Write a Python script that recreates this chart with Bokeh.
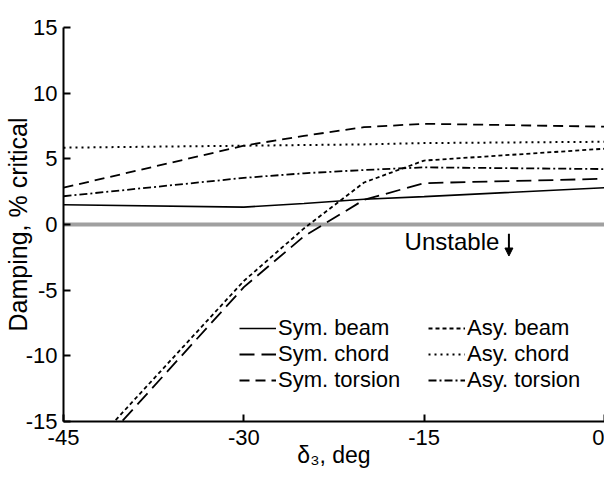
from bokeh.plotting import figure
from bokeh.models import (Range1d, Legend, LegendItem, Arrow, NormalHead, Label,
                          FixedTicker, PrintfTickFormatter)
from bokeh.embed import file_html
from bokeh.resources import INLINE

# data
delta3 = [-45, -30, -25, -20, -15, 0]
sym_beam = [1.5, 1.32, 1.6, 1.92, 2.12, 2.8]
sym_chord = [-19.9, -4.77, -0.9, 1.88, 3.15, 3.48]
sym_torsion = [2.8, 6.0, 6.75, 7.41, 7.67, 7.45]
asy_beam = [-19.2, -4.3, -0.3, 3.2, 4.87, 5.77]
asy_chord = [5.85, 6.0, 6.05, 6.1, 6.2, 6.3]
asy_torsion = [2.15, 3.55, 3.9, 4.15, 4.35, 4.22]
x_ticks = [-45, -30, -15, 0]
y_ticks = [-15, -10, -5, 0, 5, 10, 15]
zero_x = [-45, 0]
zero_y = [0, 0]

FONT = "Liberation Sans"

p = figure(width=604, height=473, output_backend="svg", toolbar_location=None,
           x_range=Range1d(-45, 0), y_range=Range1d(-15, 15),
           min_border_left=59, min_border_right=0, min_border_top=27, min_border_bottom=52)
p.outline_line_color = None
p.grid.visible = False

for ax in (p.xaxis, p.yaxis):
    ax.axis_line_width = 2
    ax.axis_line_color = "black"
    ax.major_tick_line_width = 2
    ax.major_tick_in = 7
    ax.major_tick_out = 0
    ax.minor_tick_line_color = None
    ax.major_label_text_font = FONT
    ax.major_label_text_font_size = "22px"
    ax.major_label_text_color = "black"
    ax.axis_label_text_font = FONT
    ax.axis_label_text_font_style = "normal"
    ax.axis_label_text_color = "black"
    ax.formatter = PrintfTickFormatter(format="%d")

p.xaxis.ticker = FixedTicker(ticks=x_ticks)
p.yaxis.ticker = FixedTicker(ticks=y_ticks)
p.xaxis.major_label_standoff = 8
p.yaxis.major_label_standoff = 6
p.xaxis.axis_label = "δ₃, deg"
p.yaxis.axis_label = "Damping, % critical"
p.xaxis.axis_label_text_font_size = "23px"
p.yaxis.axis_label_text_font_size = "25px"
p.xaxis.axis_label_standoff = -6
p.yaxis.axis_label_standoff = -9

p.line(zero_x, zero_y, line_color="#a0a0a0", line_width=4)

r1 = p.line(delta3, sym_beam, line_color="black", line_width=1.6)
r2 = p.line(delta3, sym_chord, line_color="black", line_width=1.8, line_dash="15 7")
r3 = p.line(delta3, sym_torsion, line_color="black", line_width=1.8, line_dash="10 6")
r4 = p.line(delta3, asy_beam, line_color="black", line_width=1.8, line_dash="4 3")
r5 = p.line(delta3, asy_chord, line_color="black", line_width=2, line_dash="2 4")
r6 = p.line(delta3, asy_torsion, line_color="black", line_width=1.8, line_dash="8 3 2 3")

legend = Legend(items=[
    LegendItem(label="Sym. beam", renderers=[r1]),
    LegendItem(label="Sym. chord", renderers=[r2]),
    LegendItem(label="Sym. torsion", renderers=[r3]),
    LegendItem(label="Asy. beam", renderers=[r4]),
    LegendItem(label="Asy. chord", renderers=[r5]),
    LegendItem(label="Asy. torsion", renderers=[r6]),
], location=(176, 28), ncols=2, orientation="vertical")
legend.label_text_font = FONT
legend.label_text_font_size = "22px"
legend.label_text_color = "black"
legend.label_width = 150
legend.glyph_width = 37
legend.glyph_height = 20
legend.label_standoff = 2
legend.spacing = 0
legend.padding = 0
legend.margin = 0
legend.border_line_color = None
legend.background_fill_alpha = 0
p.add_layout(legend)

p.add_layout(Label(x=-8.75, y=-1.3, text="Unstable", text_font=FONT, text_font_size="24px",
                   text_align="right", text_baseline="middle", text_color="black"))
p.add_layout(Arrow(x_start=-7.95, y_start=-0.7, x_end=-7.95, y_end=-2.4, line_width=2,
                   end=NormalHead(size=8, fill_color="black", line_color="black")))

open("out.html", "w").write(file_html(p, INLINE))
